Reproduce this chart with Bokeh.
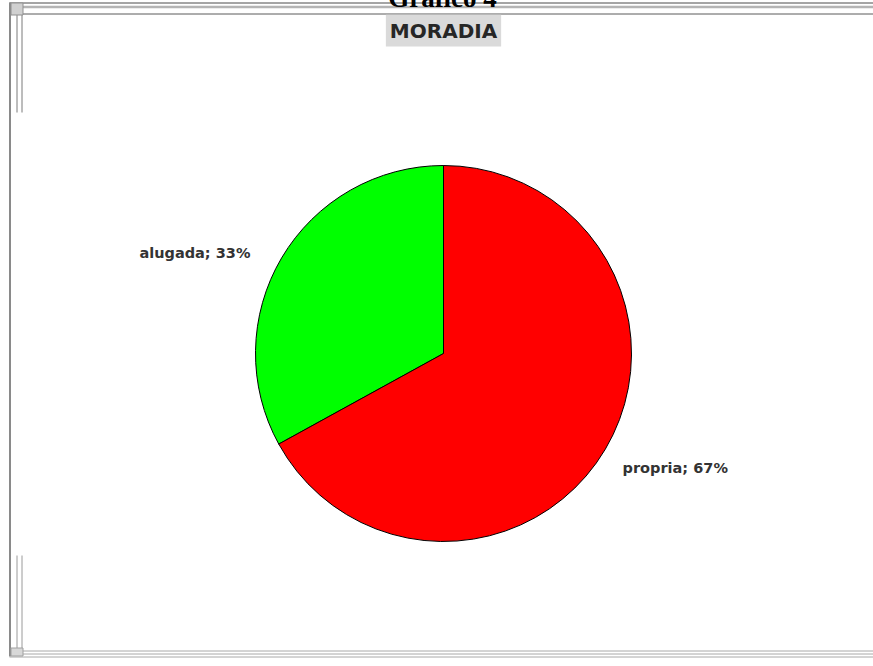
import math
from bokeh.plotting import figure
from bokeh.models import Range1d, ColumnDataSource, Label
from bokeh.core.properties import value
from bokeh.embed import file_html
from bokeh.resources import INLINE

# ---- data ----
categories = ["alugada", "propria"]
values = [33, 67]
colors = ["#00ff00", "#ff0000"]
title_text = "Gráfico 4"
subtitle_text = "MORADIA"

W, H = 873, 666
p = figure(width=W, height=H, output_backend="svg", toolbar_location=None,
           x_range=Range1d(0, W), y_range=Range1d(0, H),
           x_axis_type=None, y_axis_type=None, min_border=0,
           outline_line_color=None, background_fill_color="white",
           border_fill_color="white")
p.grid.visible = False
p.styles = {"margin-top": "-8px"}

def px(X):
    return X

def py(Y):
    return H - Y

# ---- frame decoration ----
def hline(y, x0, x1, color, w):
    p.segment(x0=[px(x0)], y0=[py(y)], x1=[px(x1)], y1=[py(y)], line_color=color, line_width=w)

def vline(x, y0, y1, color, w):
    p.segment(x0=[px(x)], y0=[py(y0)], x1=[px(x)], y1=[py(y1)], line_color=color, line_width=w)

hline(10.5, 9, 873, "#4a4a4a", 1)
hline(14.5, 22, 873, "#b4b4b4", 2.5)
hline(21.5, 21, 873, "#5a5a5a", 1)
vline(9.5, 10, 664, "#8a8a8a", 2)
vline(16.5, 21, 120, "#7a7a7a", 1)
vline(21.5, 21, 120, "#7a7a7a", 1)
vline(16.5, 563, 662, "#9a9a9a", 1)
vline(21.5, 563, 658, "#9a9a9a", 1)
hline(658.5, 21, 873, "#a8a8a8", 1)
hline(661.5, 16, 873, "#a8a8a8", 1)
hline(664.5, 9, 873, "#a8a8a8", 1)
p.rect(x=[px(16.5)], y=[py(16.5)], width=12, height=12, fill_color="#d0d0d0",
       line_color="#909090", line_width=1)
p.rect(x=[px(16.5)], y=[py(659.5)], width=12, height=8, fill_color="#d8d8d8",
       line_color="#a0a0a0", line_width=1)

# ---- title (cut at top as in the reference) ----
p.text(x=[px(442)], y=[py(5)], text=[title_text], text_align="center",
       text_baseline="alphabetic", text_font=value("Liberation Serif"),
       text_font_style="bold", text_font_size="27px", text_color="#000000")

p.add_layout(Label(x=px(443), y=py(38), text=subtitle_text, text_align="center",
                   text_baseline="middle", text_font="DejaVu Sans",
                   text_font_style="bold", text_font_size="20px",
                   text_color="#262626", background_fill_color="#cdcdcd",
                   background_fill_alpha=0.75, padding=4))

# ---- pie ----
cx, cy, R = px(443), py(361), 188
total = float(sum(values))
starts, ends = [], []
a = math.pi / 2
for v in values:
    starts.append(a)
    a += 2 * math.pi * v / total
    ends.append(a)

src = ColumnDataSource(dict(start=starts, end=ends, color=colors, cat=categories))
p.wedge(x=cx, y=cy, radius=R, start_angle="start", end_angle="end",
        direction="anticlock", fill_color="color", line_color="#000000",
        line_width=1, source=src)

lx, ly, lt, la = [], [], [], []
for cat, v, s, e in zip(categories, values, starts, ends):
    mid = (s + e) / 2
    lx.append(cx + R * 1.15 * math.cos(mid) - 7)
    ly.append(cy + R * 1.12 * math.sin(mid))
    lt.append(f"{cat}; {v}%")
    la.append("right" if math.cos(mid) < 0 else "left")

lsrc = ColumnDataSource(dict(x=lx, y=ly, t=lt, a=la))
p.text(x="x", y="y", text="t", text_align="a", text_baseline="middle",
       y_offset=7, text_font=value("DejaVu Sans"), text_font_style="bold",
       text_font_size="14.5px", text_color="#333333", source=lsrc)

open("out.html", "w").write(file_html(p, INLINE))
